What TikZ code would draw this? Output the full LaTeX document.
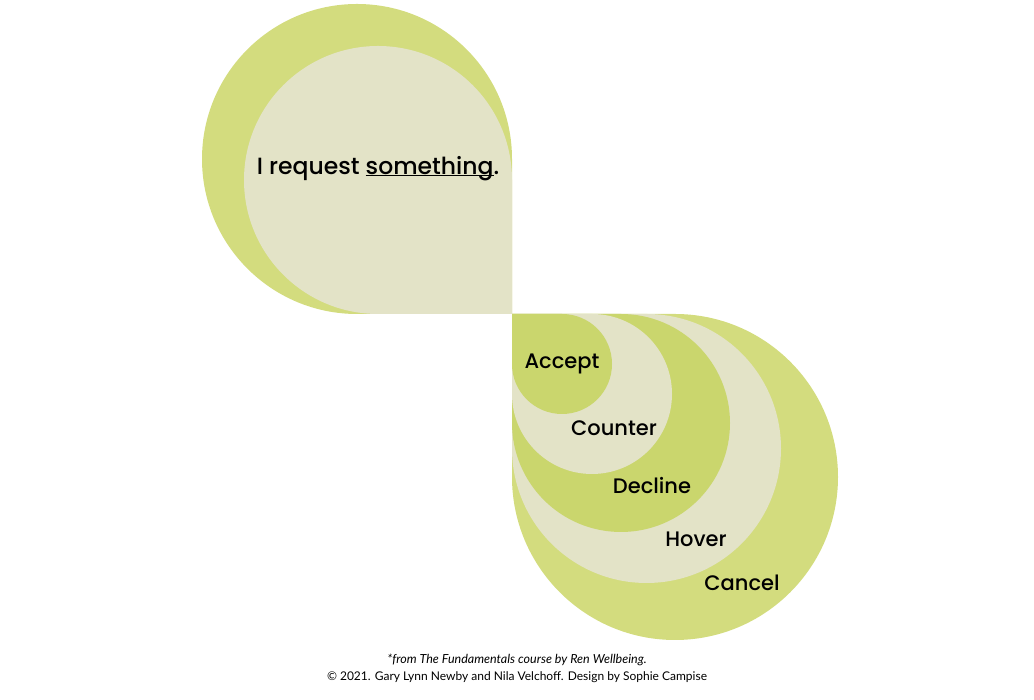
\documentclass[tikz,border=0pt]{standalone}
\usepackage{fontspec}
\setmainfont{Poppins}[UprightFont=* Medium]
\newfontfamily\notefont{Lato}
\usetikzlibrary{positioning}
\definecolor{leafgreen}{HTML}{D3DC7E}
\definecolor{deepgreen}{HTML}{CAD66D}
\definecolor{paleleaf}{HTML}{E3E3C7}

\begin{document}
\begin{tikzpicture}[x=1pt,y=1pt]
  \tikzstyle{ringG}=[fill=leafgreen]
  \tikzstyle{ringD}=[fill=deepgreen]
  \tikzstyle{ringB}=[fill=paleleaf]
  \tikzstyle{word}=[inner sep=0pt,font=\fontsize{21}{25}\selectfont]
  \tikzstyle{note}=[inner sep=0pt,font=\notefont\fontsize{12}{14}\selectfont]
  \useasboundingbox (0,0) rectangle (1034,700);

  % Request drop, square corner bottom right
  \coordinate (mid) at (512,386);
  \fill[ringG] (mid) -- ++(0,155) arc[start angle=0,end angle=270,radius=155] -- cycle;
  \fill[ringB] (mid) -- ++(0,134) arc[start angle=0,end angle=270,radius=134] -- cycle;

  % Answer drops, square corner top left
  \fill[ringG] (mid) -- ++(0,-163) arc[start angle=180,end angle=450,radius=163] -- cycle;
  \fill[ringB] (mid) -- ++(0,-134.5) arc[start angle=180,end angle=450,radius=134.5] -- cycle;
  \fill[ringD] (mid) -- ++(0,-109) arc[start angle=180,end angle=450,radius=109] -- cycle;
  \fill[ringB] (mid) -- ++(0,-80) arc[start angle=180,end angle=450,radius=80] -- cycle;
  \fill[ringD] (mid) -- ++(0,-50) arc[start angle=180,end angle=450,radius=50] -- cycle;

  % Labels
  \node[word,font=\fontsize{23.5}{28}\selectfont] (request) at (378,531)
    {I request \underline{\smash{something}}.};
  \node[word] (accept)  at (562,336) {Accept};
  \node[word] (counter) at (614,272) {Counter};
  \node[word] (decline) at (652,214) {Decline};
  \node[word] (hover)   at (696,161) {Hover};
  \node[word] (cancel)  at (742,117) {Cancel};

  \node[note,font=\notefont\fontsize{12.5}{14}\selectfont] (source) at (517,40)
    {\itshape *from The Fundamentals course by Ren Wellbeing.};
  \node[note] (credit) [below=5pt of source] {© 2021. Gary Lynn Newby and Nila Velchoff. Design by Sophie Campise};
\end{tikzpicture}
\end{document}
